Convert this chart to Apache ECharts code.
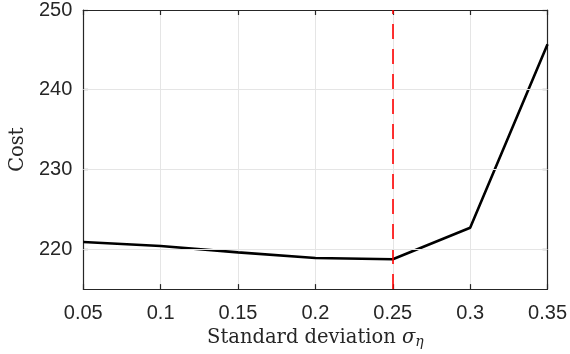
<!DOCTYPE html>
<html>
<head>
<meta charset="utf-8">
<script src="https://cdn.jsdelivr.net/npm/echarts@6/dist/echarts.min.js"></script>
<style>
html,body{margin:0;padding:0;background:#fff;}
#chart{width:570px;height:354px;}
</style>
</head>
<body>
<div id="chart"></div>
<script>
var sigmaValues = [0.05, 0.10, 0.15, 0.20, 0.25, 0.30, 0.35];
var costValues = [220.9, 220.4, 219.6, 218.9, 218.75, 222.7, 245.7];
var optimalSigma = 0.25;
var xTickLabels = ['0.05', '0.1', '0.15', '0.2', '0.25', '0.3', '0.35'];
var yTickValues = [220, 230, 240, 250];

var chart = echarts.init(document.getElementById('chart'), null, {renderer: 'canvas'});
var points = sigmaValues.map(function (s, i) { return [s, costValues[i]]; });
var axisColor = '#262626';
var sansFont = 'Liberation Sans, Arial, Helvetica, sans-serif';
var serifFont = 'DejaVu Serif, Liberation Serif, serif';

function fmtX(v) {
  var idx = Math.round((v - 0.05) / 0.05);
  return xTickLabels[idx] !== undefined ? xTickLabels[idx] : '';
}

var yTicks = {show: true, inside: true, length: 5, customValues: yTickValues,
  lineStyle: {color: axisColor, width: 1.2}};

chart.setOption({
  animation: false,
  backgroundColor: '#fff',
  grid: {left: 82, right: 21, top: 9, bottom: 63.5, containLabel: false},
  xAxis: [{
    type: 'value', min: 0.05, max: 0.35, interval: 0.05,
    name: 'Standard deviation {i|σ}{sub|η}',
    nameLocation: 'middle', nameGap: 33,
    nameTextStyle: {
      fontFamily: serifFont, fontSize: 19.5, color: axisColor,
      rich: {
        i: {fontFamily: serifFont, fontStyle: 'italic', fontSize: 19.5, color: axisColor},
        sub: {fontFamily: serifFont, fontStyle: 'italic', fontSize: 14, color: axisColor, verticalAlign: 'bottom', padding: [8, 0, 0, 0]}
      }
    },
    axisLine: {show: true, onZero: false, lineStyle: {color: axisColor, width: 1.2}},
    axisTick: {show: true, inside: true, length: 5, lineStyle: {color: axisColor, width: 1.2}},
    axisLabel: {formatter: fmtX, fontFamily: sansFont, fontSize: 20, color: axisColor, margin: 14},
    splitLine: {show: true, lineStyle: {color: '#e5e5e5', width: 1}}
  }, {
    type: 'value', position: 'top', min: 0.05, max: 0.35, interval: 0.05,
    axisLine: {show: true, onZero: false, lineStyle: {color: axisColor, width: 1.2}},
    axisTick: {show: true, inside: true, length: 5, lineStyle: {color: axisColor, width: 1.2}},
    axisLabel: {show: false},
    splitLine: {show: false}
  }],
  yAxis: [{
    type: 'value', min: 215, max: 250,
    name: 'Cost', nameLocation: 'middle', nameGap: 55, nameRotate: 90,
    nameTextStyle: {fontFamily: serifFont, fontSize: 19.5, color: axisColor},
    axisLine: {show: true, onZero: false, lineStyle: {color: axisColor, width: 1.2}},
    axisTick: yTicks,
    axisLabel: {customValues: yTickValues, fontFamily: sansFont, fontSize: 20, color: axisColor, margin: 11},
    splitLine: {show: false}
  }, {
    type: 'value', position: 'right', min: 215, max: 250,
    axisLine: {show: true, onZero: false, lineStyle: {color: axisColor, width: 1.2}},
    axisTick: yTicks,
    axisLabel: {show: false},
    splitLine: {show: false}
  }],
  series: [{
    type: 'line',
    data: points,
    xAxisIndex: 0, yAxisIndex: 0,
    symbol: 'none',
    z: 3,
    lineStyle: {color: '#000', width: 2.6},
    markLine: {
      silent: true,
      symbol: 'none',
      label: {show: false},
      z: 4,
      lineStyle: {color: '#ff0000', width: 1.6, opacity: 1, type: [15, 10]},
      data: [{xAxis: optimalSigma}]
    }
  }, {
    type: 'line',
    data: [],
    xAxisIndex: 0, yAxisIndex: 0,
    silent: true,
    z: 1,
    markLine: {
      silent: true,
      symbol: 'none',
      label: {show: false},
      lineStyle: {color: '#e5e5e5', width: 1, type: 'solid'},
      data: yTickValues.filter(function (v) { return v < 250; }).map(function (v) { return {yAxis: v}; })
    }
  }]
});
</script>
</body>
</html>
